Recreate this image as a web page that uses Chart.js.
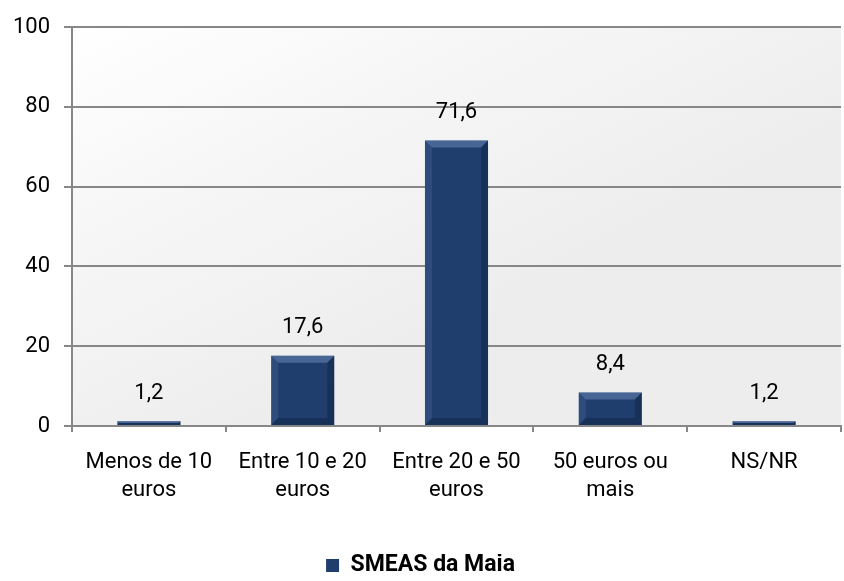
<!DOCTYPE html>
<html>
<head>
<meta charset="utf-8">
<script src="https://cdn.jsdelivr.net/npm/chart.js@4/dist/chart.umd.min.js"></script>
<style>
  html, body { margin: 0; padding: 0; background: #fff; }
  #wrap { width: 844px; height: 581px; }
</style>
</head>
<body>
<div id="wrap"><canvas id="chart" width="844" height="581"></canvas></div>
<script>
const categories = [
    ['Menos de 10', 'euros'],
    ['Entre 10 e 20', 'euros'],
    ['Entre 20 e 50', 'euros'],
    ['50 euros ou', 'mais'],
    'NS/NR'
];
const smeasValues = [1.2, 17.6, 71.6, 8.4, 1.2];
const seriesName = 'SMEAS da Maia';
const yTicks = [0, 20, 40, 60, 80, 100];

const FONT = 'Roboto, "Liberation Sans", sans-serif';
const NAVY = '#1f3e6d';
const GRID = '#878787';

// light gradient behind the plot area
const plotBackground = {
    id: 'plotBackground',
    beforeDraw(chart) {
        const { ctx, chartArea: a } = chart;
        const g = ctx.createLinearGradient(a.left, a.top, a.left + 200, a.bottom);
        g.addColorStop(0, '#ffffff');
        g.addColorStop(0.4, '#f7f7f7');
        g.addColorStop(1, '#ededed');
        ctx.save();
        ctx.fillStyle = g;
        ctx.fillRect(a.left, a.top, a.right - a.left, a.bottom - a.top);
        ctx.restore();
    }
};

// bevel on the bars and the value labels above them
const barDecor = {
    id: 'barDecor',
    afterDatasetsDraw(chart) {
        const { ctx } = chart;
        const meta = chart.getDatasetMeta(0);
        ctx.save();
        meta.data.forEach((bar, i) => {
            const left = bar.x - bar.width / 2;
            const right = bar.x + bar.width / 2;
            const top = bar.y;
            const bottom = bar.base;
            const b = Math.min(7, (bottom - top) / 2);
            if (b > 1) {
                ctx.fillStyle = 'rgba(120,150,200,0.45)';
                ctx.beginPath();
                ctx.moveTo(left, top); ctx.lineTo(right, top);
                ctx.lineTo(right - b, top + b); ctx.lineTo(left + b, top + b);
                ctx.closePath(); ctx.fill();
                ctx.fillStyle = 'rgba(90,120,170,0.25)';
                ctx.beginPath();
                ctx.moveTo(left, top); ctx.lineTo(left + b, top + b);
                ctx.lineTo(left + b, bottom - b); ctx.lineTo(left, bottom);
                ctx.closePath(); ctx.fill();
                ctx.fillStyle = 'rgba(0,10,30,0.25)';
                ctx.beginPath();
                ctx.moveTo(right, top); ctx.lineTo(right - b, top + b);
                ctx.lineTo(right - b, bottom - b); ctx.lineTo(right, bottom);
                ctx.closePath(); ctx.fill();
                ctx.beginPath();
                ctx.moveTo(left, bottom); ctx.lineTo(left + b, bottom - b);
                ctx.lineTo(right - b, bottom - b); ctx.lineTo(right, bottom);
                ctx.closePath(); ctx.fill();
            }
            ctx.fillStyle = '#000';
            ctx.font = '22px ' + FONT;
            ctx.textAlign = 'center';
            ctx.textBaseline = 'middle';
            ctx.fillText(smeasValues[i].toFixed(1).replace('.', ','), bar.x, top - 28);
        });
        ctx.restore();
    }
};

new Chart(document.getElementById('chart'), {
    type: 'bar',
    data: {
        labels: categories,
        datasets: [{
            label: seriesName,
            data: smeasValues,
            backgroundColor: NAVY,
            borderWidth: 0,
            categoryPercentage: 1,
            barPercentage: 0.41
        }]
    },
    options: {
        responsive: false,
        animation: false,
        layout: { padding: { top: 21, right: 3, left: 0, bottom: -6 } },
        plugins: {
            tooltip: { enabled: false },
            legend: {
                position: 'bottom',
                labels: {
                    color: '#000',
                    font: { family: FONT, size: 23, weight: 'bold' },
                    boxWidth: 13,
                    boxHeight: 13,
                    padding: 0
                }
            }
        },
        scales: {
            x: {
                afterFit: scale => { scale.height = 128; },
                grid: { drawOnChartArea: false, drawTicks: true, tickLength: 6, color: GRID, lineWidth: 2, offset: true },
                border: { color: GRID, width: 2 },
                ticks: {
                    color: '#000',
                    padding: 16,
                    autoSkip: false,
                    maxRotation: 0,
                    font: { family: FONT, size: 22, lineHeight: 1.3 }
                }
            },
            y: {
                min: 0,
                max: 100,
                afterFit: scale => { scale.width = 72; },
                afterBuildTicks: scale => { scale.ticks = yTicks.map(v => ({ value: v })); },
                grid: { color: GRID, lineWidth: 2, tickLength: 8 },
                border: { color: GRID, width: 2 },
                ticks: {
                    color: '#000',
                    padding: 14,
                    font: { family: FONT, size: 22 }
                }
            }
        }
    },
    plugins: [plotBackground, barDecor]
});
</script>
</body>
</html>
